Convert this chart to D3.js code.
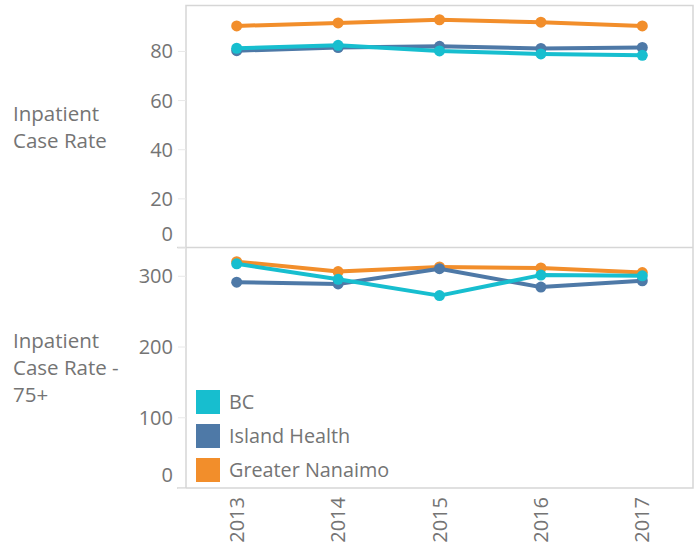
<!DOCTYPE html>
<html>
<head>
<meta charset="utf-8">
<script src="https://cdn.jsdelivr.net/npm/d3@7"></script>
<style>
  html, body { margin: 0; padding: 0; background: #fff; }
  svg { display: block; }
  text { font-family: "Open Sans", sans-serif; fill: #747474; }
</style>
</head>
<body>
<svg id="chart" width="698" height="548"></svg>
<script>
const years = ["2013", "2014", "2015", "2016", "2017"];
const seriesNames = ["Greater Nanaimo", "Island Health", "BC"];
const legendOrder = ["BC", "Island Health", "Greater Nanaimo"];
const colors = { "BC": "#17becf", "Island Health": "#4e79a7", "Greater Nanaimo": "#f28e2b" };

// Inpatient Case Rate
const caseRateBC = [81.1, 82.3, 80.0, 78.8, 78.2];
const caseRateIsland = [80.1, 81.4, 81.9, 81.0, 81.4];
const caseRateNanaimo = [90.2, 91.4, 92.7, 91.7, 90.2];
// Inpatient Case Rate - 75+
const rate75BC = [317, 295, 272, 301, 300];
const rate75Island = [291, 288.5, 310, 284, 293];
const rate75Nanaimo = [320, 306, 312.5, 311, 304.5];

const topTicks = [0, 20, 40, 60, 80];
const bottomTicks = [0, 100, 200, 300];
const rowLabelTop = ["Inpatient", "Case Rate"];
const rowLabelBottom = ["Inpatient", "Case Rate -", "75+"];

const svg = d3.select("#chart");
const paneL = 186, paneR = 693;
const topY0 = 5.5, midY = 247.5, botY1 = 488;

const x = d3.scalePoint().domain(years).range([paneL, paneR]).padding(0.5);
const yTop = d3.scaleLinear().domain([0, 98.5]).range([midY, topY0]);
const yBot = d3.scaleLinear().domain([0, 340]).range([botY1, midY]);

const panels = [
  { y: yTop, ticks: topTicks, label: rowLabelTop, labelY: 121, data: { "BC": caseRateBC, "Island Health": caseRateIsland, "Greater Nanaimo": caseRateNanaimo } },
  { y: yBot, ticks: bottomTicks, label: rowLabelBottom, labelY: 348, data: { "BC": rate75BC, "Island Health": rate75Island, "Greater Nanaimo": rate75Nanaimo } }
];

// pane borders
svg.append("rect").attr("x", paneL).attr("y", topY0).attr("width", paneR - paneL).attr("height", botY1 - topY0)
  .attr("fill", "none").attr("stroke", "#d6d6d6").attr("stroke-width", 1.5);
svg.append("line").attr("x1", 177).attr("x2", paneR).attr("y1", midY).attr("y2", midY)
  .attr("stroke", "#d6d6d6").attr("stroke-width", 1.5);
svg.append("line").attr("x1", 177).attr("x2", paneL).attr("y1", botY1).attr("y2", botY1)
  .attr("stroke", "#d6d6d6").attr("stroke-width", 1.5);

panels.forEach(p => {
  const ax = svg.append("g").attr("transform", `translate(${paneL},0)`)
    .call(d3.axisLeft(p.y).tickValues(p.ticks).tickSize(8).tickPadding(5).tickFormat(d3.format("d")));
  ax.select(".domain").remove();
  ax.selectAll(".tick line").attr("stroke", "#e8e8e8").attr("stroke-width", 1);
  ax.selectAll(".tick text").attr("font-size", 20).style("font-family", '"Open Sans", sans-serif').attr("fill", "#747474")
    .attr("dy", d => d === 0 ? "-0.35em" : "0.35em");

  const lbl = svg.append("text").attr("x", 13).attr("y", p.labelY).attr("font-size", 20.5);
  p.label.forEach((t, i) => lbl.append("tspan").attr("x", 13).attr("dy", i === 0 ? 0 : 27).text(t));

  const line = d3.line().x((d, i) => x(years[i])).y(d => p.y(d));
  seriesNames.forEach(name => {
    const vals = p.data[name];
    svg.append("path").datum(vals).attr("d", line).attr("fill", "none")
      .attr("stroke", colors[name]).attr("stroke-width", 4).attr("stroke-linejoin", "round");
    svg.selectAll(null).data(vals).enter().append("circle")
      .attr("cx", (d, i) => x(years[i])).attr("cy", d => p.y(d)).attr("r", 5.5)
      .attr("fill", colors[name]);
  });
});

// x axis labels
svg.append("g").selectAll("text").data(years).enter().append("text")
  .attr("transform", d => `translate(${x(d)},497) rotate(-90)`)
  .attr("text-anchor", "end").attr("dy", "0.35em").attr("font-size", 20).attr("fill", "#7a7a7a")
  .text(d => d);

// legend
const lg = svg.append("g");
legendOrder.forEach((name, i) => {
  const yy = 390 + i * 34;
  lg.append("rect").attr("x", 196).attr("y", yy).attr("width", 24).attr("height", 24).attr("fill", colors[name]);
  lg.append("text").attr("x", 229).attr("y", yy + 12).attr("dy", "0.35em").attr("font-size", 19.8).text(name);
});
</script>
</body>
</html>
